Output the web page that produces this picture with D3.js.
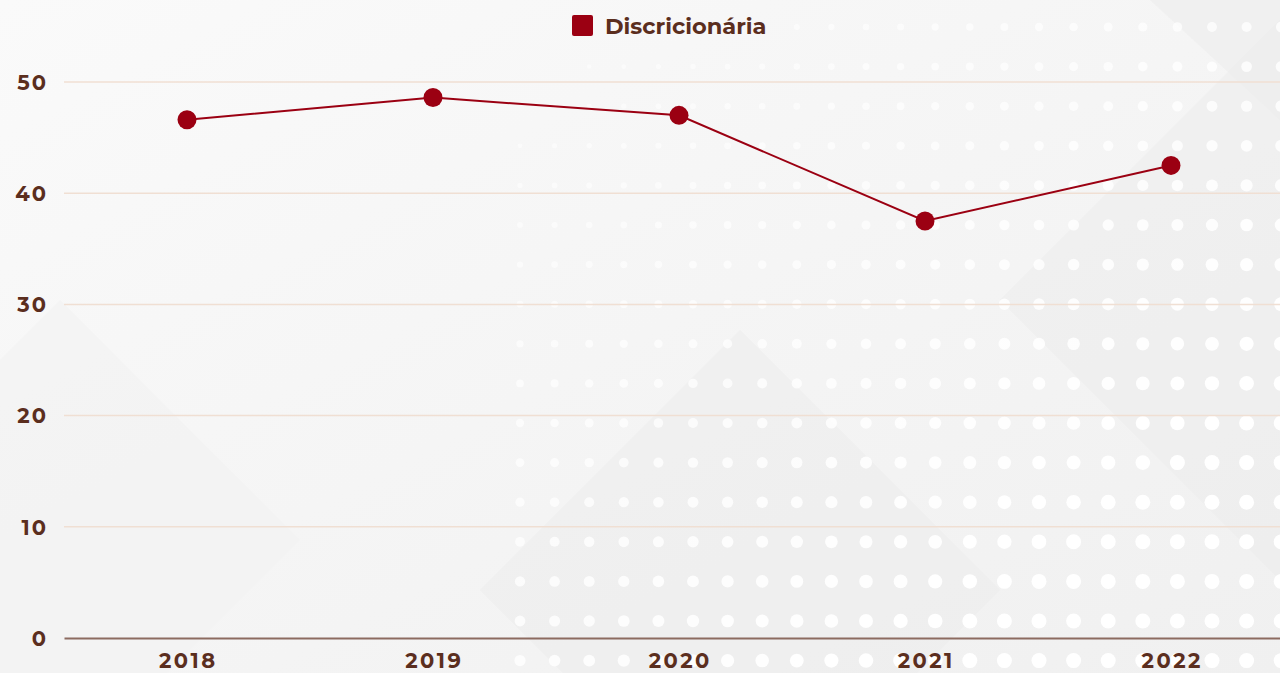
<!DOCTYPE html>
<html lang="en">
<head>
    <meta charset="UTF-8">
    <title>Discricionária</title>
    <style>
        body { margin: 0; background: #f6f6f6; }
        text { font-family: "Montserrat", "Open Sans", sans-serif; fill: #5b2e1e; font-weight: 700; }
    </style>
</head>
<body>
<script src="https://d3js.org/d3.v7.min.js"></script>
<script>

    const years = ['2018', '2019', '2020', '2021', '2022'];
    const values = [46.6, 48.6, 47.0, 37.5, 42.5];
    const yTicks = [0, 10, 20, 30, 40, 50];
    const seriesName = 'Discricionária';

    const width = 1280;
    const height = 673;

    let svg = d3.select('body').append('svg')
        .attr('width', width)
        .attr('height', height);

    // background: soft gradient, diagonal shapes and a white dot grid
    let defs = svg.append('defs');
    let grad = defs.append('linearGradient').attr('id', 'bg')
        .attr('x1', 0).attr('y1', 0).attr('x2', 1).attr('y2', 1);
    grad.append('stop').attr('offset', '0%').attr('stop-color', '#fafafa');
    grad.append('stop').attr('offset', '100%').attr('stop-color', '#f0f0f0');

    let bg = svg.append('g');
    bg.append('rect').attr('width', width).attr('height', height).attr('fill', 'url(#bg)');

    const shapes = [
        [[1150, 0], [1280, 0], [1280, 120]],
        [[740, 330], [1000, 590], [740, 850], [480, 590]],
        [[1000, 300], [1280, 20], [1280, 580]],
        [[60, 300], [300, 540], [60, 780], [-180, 540]]
    ];
    bg.selectAll('polygon.shape')
        .data(shapes)
        .enter().append('polygon')
        .attr('class', 'shape')
        .attr('points', d => d.map(p => p.join(',')).join(' '))
        .attr('fill', (d, i) => i === 3 ? '#f2f2f2' : '#ececec')
        .attr('opacity', 0.6);

    let dots = [];
    for (let c = 0; c < 30; c++) {
        for (let r = 0; r < 17; r++) {
            let x = 520 + c * 34.6;
            let y = 27 + r * 39.6;
            if (x > 1285) continue;
            let t = Math.min(1, Math.max(0, ((x - 520) / 760) * 0.6 + (y / 673) * 0.7));
            let rad = 1.5 + t * 6;
            if (t < 0.12) continue;
            dots.push({x: x, y: y, r: rad, o: 0.4 + t * 0.6});
        }
    }
    bg.selectAll('circle.bgdot')
        .data(dots)
        .enter().append('circle')
        .attr('class', 'bgdot')
        .attr('cx', d => d.x).attr('cy', d => d.y).attr('r', d => d.r)
        .attr('fill', '#ffffff').attr('opacity', d => d.o);

    // scales
    let x = d3.scaleBand().domain(years).range([64, 1294]);
    let y = d3.scaleLinear().domain([0, 50]).range([638, 82]);

    // gridlines
    svg.append('g').selectAll('line')
        .data(yTicks.filter(d => d > 0))
        .enter().append('line')
        .attr('x1', 64).attr('x2', width)
        .attr('y1', d => y(d)).attr('y2', d => y(d))
        .attr('stroke', '#f0dfd3').attr('stroke-width', 1.5);

    // y axis labels
    let yAxis = svg.append('g')
        .attr('transform', 'translate(48,0)')
        .call(d3.axisLeft(y).tickValues(yTicks).tickSize(0).tickPadding(0));
    yAxis.select('.domain').remove();
    yAxis.selectAll('text')
        .attr('font-size', 21).attr('font-family', null).attr('fill', null)
        .attr('letter-spacing', 2)
        .attr('dy', '0.35em');

    // x axis
    let xAxis = svg.append('g')
        .attr('transform', 'translate(0,638)')
        .call(d3.axisBottom(x).tickSize(0).tickPadding(15));
    xAxis.select('.domain').attr('stroke', '#8c6b60').attr('stroke-width', 2);
    xAxis.selectAll('text')
        .attr('font-size', 21).attr('font-family', null).attr('fill', null)
        .attr('letter-spacing', 2.5)
        .attr('dx', 1.25);

    // line
    let line = d3.line()
        .x((d, i) => x(years[i]) + x.bandwidth() / 2)
        .y(d => y(d));

    svg.append('path')
        .datum(values)
        .attr('d', line)
        .attr('fill', 'none')
        .attr('stroke', '#9b0012')
        .attr('stroke-width', 2);

    svg.append('g').selectAll('circle')
        .data(values)
        .enter().append('circle')
        .attr('cx', (d, i) => x(years[i]) + x.bandwidth() / 2)
        .attr('cy', d => y(d))
        .attr('r', 9.5)
        .attr('fill', '#9b0012');

    // legend
    let legend = svg.append('g').attr('transform', 'translate(572,15)');
    legend.append('rect')
        .attr('width', 21).attr('height', 21).attr('rx', 2)
        .attr('fill', '#9b0012');
    legend.append('text')
        .attr('x', 33).attr('y', 19)
        .attr('font-size', 22.5).attr('font-weight', 600)
        .text(seriesName);

</script>
</body>
</html>
